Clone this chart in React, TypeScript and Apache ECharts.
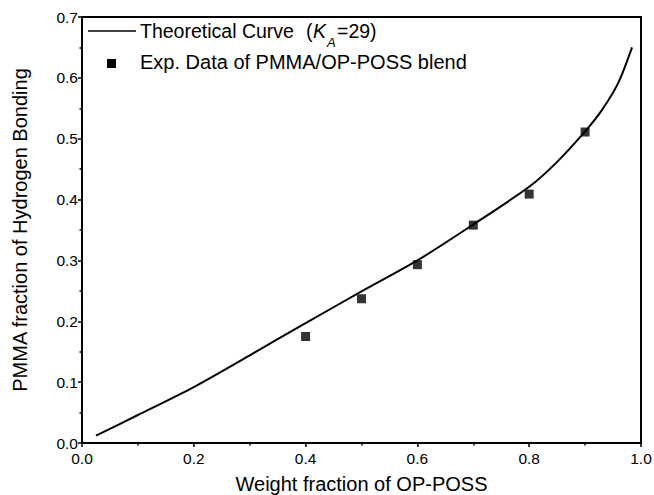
import React, { useEffect, useRef } from "react";
import * as echarts from "echarts";

const curveX = [0.025, 0.1, 0.2, 0.3, 0.4, 0.5, 0.6, 0.7, 0.8, 0.85, 0.9, 0.93, 0.96, 0.984];
const curveY = [0.012, 0.046, 0.092, 0.144, 0.197, 0.249, 0.3, 0.359, 0.421, 0.462, 0.512, 0.547, 0.593, 0.65];
const expX = [0.4, 0.5, 0.6, 0.7, 0.8, 0.9];
const expY = [0.175, 0.237, 0.293, 0.358, 0.409, 0.511];

const FONT = "'Liberation Sans', Arial, sans-serif";

export default function App() {
  const ref = useRef<HTMLDivElement>(null);
  useEffect(() => {
    if (!ref.current) return;
    const chart = echarts.init(ref.current, undefined, { renderer: "svg" });
    const axisCommon = {
      axisLine: { show: true, lineStyle: { color: "#000", width: 2 } },
      axisTick: { show: true, inside: false, length: 4, lineStyle: { color: "#000", width: 1.5 } },
      minorTick: { show: true, splitNumber: 2, length: 2.5, lineStyle: { color: "#000", width: 1.5 } },
      splitLine: { show: false },
      axisLabel: {
        color: "#000",
        fontFamily: FONT,
        fontSize: 15.5,
        formatter: (v: number) => v.toFixed(1),
      },
      nameTextStyle: { color: "#000", fontFamily: FONT, fontSize: 20 },
      nameLocation: "middle" as const,
    };
    chart.setOption({
      animation: false,
      backgroundColor: "#fff",
      grid: {
        left: 82,
        top: 17,
        right: 13,
        bottom: 52,
        outerBoundsMode: "none",
        containLabel: false,
        show: true,
        borderColor: "#000",
        borderWidth: 2,
        backgroundColor: "transparent",
      },
      xAxis: {
        type: "value",
        min: 0,
        max: 1,
        interval: 0.2,
        name: "Weight fraction of OP-POSS",
        nameGap: 31,
        ...axisCommon,
        axisLabel: { ...axisCommon.axisLabel, margin: 7 },
      },
      yAxis: {
        type: "value",
        min: 0,
        max: 0.7,
        interval: 0.1,
        name: "PMMA fraction of Hydrogen Bonding",
        nameGap: 52,
        ...axisCommon,
        axisLabel: { ...axisCommon.axisLabel, margin: 4 },
      },
      series: [
        {
          name: "Theoretical Curve",
          type: "line",
          data: curveX.map((x, i) => [x, curveY[i]]),
          smooth: 0.25,
          symbol: "none",
          lineStyle: { color: "#000", width: 2 },
        },
        {
          name: "Exp. Data of PMMA/OP-POSS blend",
          type: "scatter",
          data: expX.map((x, i) => [x, expY[i]]),
          symbol: "rect",
          symbolSize: 9,
          itemStyle: { color: "#000" },
        },
      ],
      graphic: [
        { type: "line", shape: { x1: 88, y1: 31, x2: 136, y2: 31 }, style: { stroke: "#000", lineWidth: 1.5 } },
        { type: "rect", shape: { x: 107, y: 59, width: 9, height: 9 }, style: { fill: "#000" } },
        {
          type: "text", x: 140, y: 31,
          style: { text: "Theoretical Curve", fontFamily: FONT, fontSize: 19.5, fill: "#000", textVerticalAlign: "middle" },
        },
        {
          type: "text", x: 306, y: 31,
          style: { text: "(", fontFamily: FONT, fontSize: 19.5, fill: "#000", textVerticalAlign: "middle" },
        },
        {
          type: "text", x: 313, y: 31,
          style: { text: "K", fontFamily: FONT, fontSize: 19.5, fontStyle: "italic", fill: "#000", textVerticalAlign: "middle" },
        },
        {
          type: "text", x: 327, y: 42,
          style: { text: "A", fontFamily: FONT, fontSize: 13, fontStyle: "italic", fill: "#000", textVerticalAlign: "middle" },
        },
        {
          type: "text", x: 337, y: 31,
          style: { text: "=29)", fontFamily: FONT, fontSize: 19.5, fill: "#000", textVerticalAlign: "middle" },
        },
        {
          type: "text", x: 140, y: 62,
          style: { text: "Exp. Data of PMMA/OP-POSS blend", fontFamily: FONT, fontSize: 20, fill: "#000", textVerticalAlign: "middle" },
        },
      ],
    });
    return () => chart.dispose();
  }, []);
  return <div ref={ref} style={{ width: 654, height: 495, position: "fixed", left: 0, top: 0 }} />;
}
